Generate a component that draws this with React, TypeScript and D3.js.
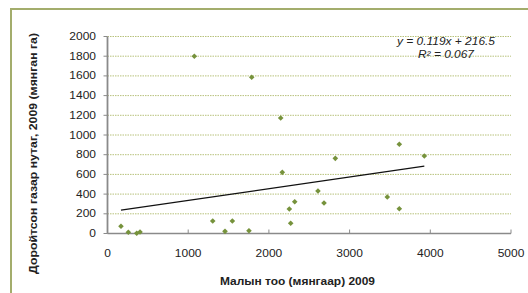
import React from "react";
import * as d3 from "d3";

const xValues = [167, 258, 362, 403, 1076, 1304, 1456, 1547, 1753, 1787, 2146, 2166, 2253, 2270, 2320, 2608, 2683, 2823, 3467, 3616, 3616, 3926];
const yValues = [73, 12, 2, 15, 1800, 127, 22, 127, 28, 1586, 1173, 621, 249, 104, 323, 431, 310, 763, 371, 906, 252, 787];
const xTicks = [0, 1000, 2000, 3000, 4000, 5000];
const yTicks = [0, 200, 400, 600, 800, 1000, 1200, 1400, 1600, 1800, 2000];
const slope = 0.119;
const intercept = 216.5;
const eqLabel = "y = 0.119x + 216.5";
const r2Label = "R² = 0.067";
const xTitle = "Малын тоо (мянгаар) 2009";
const yTitle = "Доройтсон газар нутаг, 2009 (мянган  га)";

export default function App() {
  const W = 528, H = 293;
  const x = d3.scaleLinear().domain([0, 5000]).range([107.5, 511]);
  const y = d3.scaleLinear().domain([0, 2000]).range([233.5, 36.5]);
  const font = "Liberation Sans, Arial, sans-serif";
  const green = "#76923c";
  const xmin = d3.min(xValues)!, xmax = d3.max(xValues)!;
  const line = d3.line<number>().x((d) => x(d)).y((d) => y(slope * d + intercept));
  const r = 2.8;
  const diamond = `M0,${-r}L${r},0L0,${r}L${-r},0Z`;
  const sx = 1.2;
  return (
    <svg width={W} height={H} style={{ position: "absolute", left: 0, top: 0, background: "#fff" }}>
      <rect x={11} y={9} width={W} height={H} fill="#fff" stroke="#a3ad6c" strokeWidth={2} />
      {yTicks.filter((t) => t > 0).map((t) => (
        <line key={"g" + t} x1={x(0)} x2={x(5000)} y1={y(t)} y2={y(t)} stroke="#b8c27c" strokeWidth={1} strokeDasharray="1.5,1" />
      ))}
      <line x1={x(0)} x2={x(0)} y1={y(2000)} y2={y(0)} stroke="#8a8a8a" strokeWidth={1.8} />
      <line x1={x(0)} x2={x(5000)} y1={y(0)} y2={y(0)} stroke="#8a8a8a" strokeWidth={1.3} />
      {yTicks.map((t) => (
        <g key={"y" + t}>
          <line x1={x(0) - 4} x2={x(0)} y1={y(t)} y2={y(t)} stroke="#8a8a8a" strokeWidth={1} />
          <g transform={`translate(96,${y(t)}) scale(${sx},1)`}>
            <text dy="0.35em" textAnchor="end" fontFamily={font} fontSize={10} fill="#222">{t}</text>
          </g>
        </g>
      ))}
      {xTicks.map((t) => (
        <g key={"x" + t}>
          <line x1={x(t)} x2={x(t)} y1={y(0) - 4} y2={y(0)} stroke="#8a8a8a" strokeWidth={1} />
          <g transform={`translate(${x(t)},253) scale(${sx},1)`}>
            <text dy="0.35em" textAnchor="middle" fontFamily={font} fontSize={10} fill="#222">{t}</text>
          </g>
        </g>
      ))}
      <path d={line([xmin, xmax]) || ""} fill="none" stroke="#111" strokeWidth={1.3} />
      {xValues.map((v, i) => (
        <path key={"p" + i} d={diamond} transform={`translate(${x(v)},${y(yValues[i])})`} fill={green} />
      ))}
      <text x={397} y={41.7} dy="0.35em" textLength={98} lengthAdjust="spacingAndGlyphs" fontFamily={font} fontSize={10} fontStyle="italic" fill="#222">{eqLabel}</text>
      <text x={418} y={54.3} dy="0.35em" textLength={56} lengthAdjust="spacingAndGlyphs" fontFamily={font} fontSize={10} fontStyle="italic" fill="#222">{r2Label}</text>
      <text x={220} y={281} dy="0.35em" textLength={155} lengthAdjust="spacingAndGlyphs" fontFamily={font} fontSize={10} fontWeight="bold" fill="#222">{xTitle}</text>
      <text transform={`translate(33,274) rotate(-90)`} dy="0.35em" textLength={241} lengthAdjust="spacingAndGlyphs" fontFamily={font} fontSize={10} fontWeight="bold" fill="#222">{yTitle}</text>
    </svg>
  );
}
